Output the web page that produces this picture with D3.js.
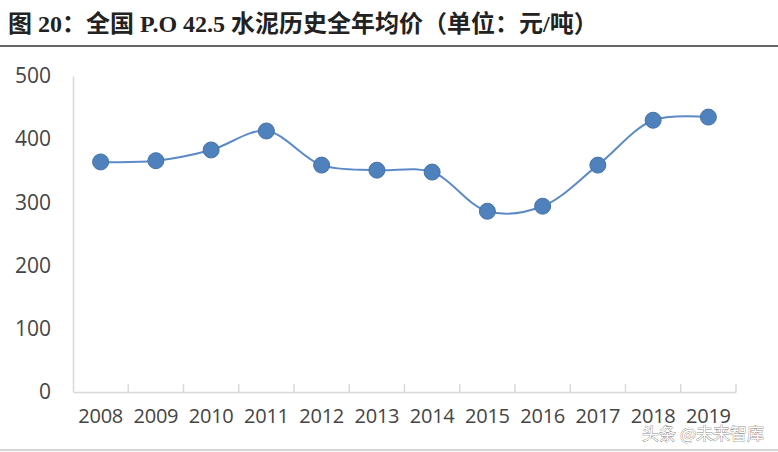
<!DOCTYPE html>
<html><head><meta charset="utf-8">
<script src="https://cdn.jsdelivr.net/npm/d3@7"></script>
<style>body{margin:0;background:#fff;}svg{display:block;}</style>
</head><body><div id="chart"></div>
<script>
const years = ['2008','2009','2010','2011','2012','2013','2014','2015','2016','2017','2018','2019'];
const prices = [364, 366, 383, 413, 359, 351, 348, 286, 294, 359, 430, 435];
const yTicks = [0, 100, 200, 300, 400, 500];

const W = 778, H = 452;
const svg = d3.select('#chart').append('svg').attr('width', W).attr('height', H);

// title
svg.append('text').attr('x', 8).attr('y', 32)
  .attr('font-family', '"Liberation Serif", "Noto Sans CJK SC", serif').attr('font-weight', 'bold')
  .attr('font-size', 24).attr('fill', '#222')
  .text('图 20：全国 P.O 42.5 水泥历史全年均价（单位：元/吨）');
svg.append('line').attr('x1', 0).attr('x2', W).attr('y1', 46).attr('y2', 46)
  .attr('stroke', '#333').attr('stroke-width', 1.5);
svg.append('line').attr('x1', 0).attr('x2', W).attr('y1', 450).attr('y2', 450)
  .attr('stroke', '#aaa').attr('stroke-width', 1);

const x = d3.scaleBand().domain(years).range([73, 736]);
const y = d3.scaleLinear().domain([0, 500]).range([392, 76]);
const font = '"Open Sans", "Liberation Sans", sans-serif';

// y axis
const ya = svg.append('g').attr('transform', 'translate(73,0)')
  .call(d3.axisLeft(y).tickValues(yTicks).tickSize(0).tickPadding(22));
ya.select('.domain').attr('stroke', '#d9d9d9').attr('stroke-width', 1.5);
ya.selectAll('text').attr('font-family', font).attr('font-size', 21).attr('fill', '#444');

// x axis
const xa = svg.append('g').attr('transform', 'translate(0,392)')
  .call(d3.axisBottom(x).tickSize(0).tickPadding(14).tickSizeOuter(0));
xa.select('.domain').attr('stroke', '#d9d9d9').attr('stroke-width', 1.5);
xa.selectAll('text').attr('font-family', font)
  .attr('font-size', 20).attr('fill', '#444').attr('dy', '0.85em').attr('letter-spacing', -0.3);
xa.selectAll('.sep').data(years.slice(1).concat(['end'])).join('line')
  .attr('x1', d => d === 'end' ? 736 : x(d)).attr('x2', d => d === 'end' ? 736 : x(d))
  .attr('y1', 0).attr('y2', -8).attr('stroke', '#d9d9d9').attr('stroke-width', 1.5);

const cx = d => x(d) + x.bandwidth() / 2;
const line = d3.line().x((d, i) => cx(years[i])).y(d => y(d)).curve(d3.curveCatmullRom.alpha(0.5));
svg.append('path').datum(prices).attr('d', line)
  .attr('fill', 'none').attr('stroke', '#5b8ac6').attr('stroke-width', 2);
svg.selectAll('circle.pt').data(prices).join('circle')
  .attr('cx', (d, i) => cx(years[i])).attr('cy', d => y(d)).attr('r', 8)
  .attr('fill', '#4f81bd').attr('stroke', '#4472a8').attr('stroke-width', 1);

// watermark
svg.append('text').attr('x', 764).attr('y', 440).attr('text-anchor', 'end')
  .attr('font-family', '"Noto Sans CJK SC", sans-serif').attr('font-size', 17)
  .attr('fill', '#fff').attr('stroke', '#555').attr('stroke-width', 0.6).attr('paint-order', 'stroke')
  .text('头条 @未来智库');
</script></body></html>
